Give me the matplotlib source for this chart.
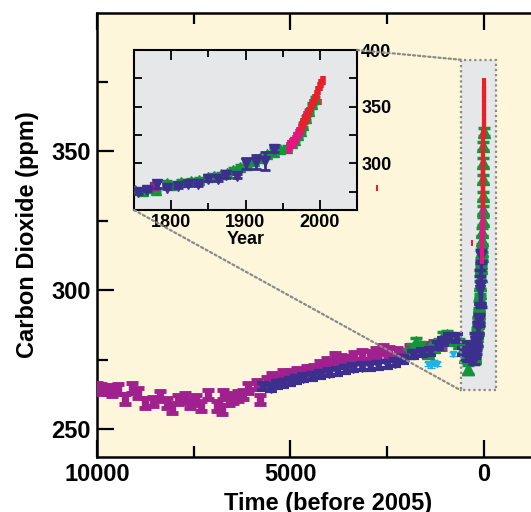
import numpy as np
import matplotlib.pyplot as plt
from matplotlib.patches import Rectangle, ConnectionPatch

plt.rcParams['font.family'] = ['Liberation Sans', 'DejaVu Sans']
plt.rcParams['font.weight'] = 'bold'

# colours
bg_main = '#fdf6da'
bg_inset = '#e6e7e9'
c_mag = '#a0218e'
c_blue = '#3c2f8e'
c_green = '#13953c'
c_cyan = '#1fb1e8'
c_pink = '#e5157f'
c_red = '#e8202a'
c_dot = '#8a8a8a'

# ice core records, years before 2005 / ppm
mag_x = [10000, 9900, 9740, 9600, 9450, 9270, 9100, 8930, 8760, 8550, 8370, 8200, 8070, 7900,
         7730, 7600, 7450, 7300, 7120, 6910, 6780, 6740, 6600, 6480, 6350, 6220, 6090, 5870,
         5790, 5600, 5490, 5360, 5190, 5010, 4840, 4700, 4580, 4400, 4240, 4050, 3850, 3700,
         3550, 3350, 3160, 2950, 2800, 2600, 2450, 2260, 2080, 1900, 1700, 1500, 1300, 1100]
mag_y = [264.9, 264.5, 264.3, 263.5, 264.4, 260.8, 264.9, 263.0, 259.5, 260.0, 261.9, 259.5,
         257.7, 260.7, 261.3, 259.5, 260.5, 258.3, 262.5, 258.3, 257.1, 262.5, 260.5, 261.3,
         262.0, 262.5, 264.9, 266.1, 260.7, 267.0, 268.5, 267.9, 269.7, 269.5, 270.3, 270.0,
         270.9, 271.5, 272.7, 274.0, 275.6, 275.0, 274.5, 276.0, 276.9, 276.3, 277.5, 278.7,
         278.0, 277.4, 276.9, 278.5, 279.0, 279.5, 280.0, 280.5]

blue_x = [5700, 5500, 5360, 5200, 5010, 4850, 4670, 4450, 4240, 4000, 3810, 3600, 3380, 3150,
          2950, 2750, 2510, 2300, 2080, 1830, 1600, 1390, 1200, 1050, 900, 700, 550, 450, 380]
blue_y = [265.5, 265.0, 266.1, 266.5, 267.3, 268.0, 268.5, 269.0, 269.7, 270.3, 270.9, 271.5,
          272.1, 272.5, 272.7, 273.0, 273.3, 274.0, 275.1, 276.9, 277.5, 278.0, 280.0, 281.7,
          283.0, 282.8, 278.0, 276.0, 280.0]

grn_x = [1950, 1850, 1750, 1650, 1550, 1450, 1300, 1150, 1050, 950, 850, 750, 650, 550, 480,
         410, 350, 300]
grn_y = [277.5, 279.0, 281.5, 280.0, 278.5, 277.5, 279.5, 281.0, 283.5, 284.0, 283.0, 282.0,
         281.0, 279.0, 276.0, 271.5, 276.0, 278.0]

cyan_x = [1450, 1380, 1300, 1220, 800]
cyan_y = [273.5, 273.0, 274.0, 273.5, 277.0]

# industrial era, calendar years / ppm
blue_yr = [1755, 1768, 1781, 1795, 1809, 1822, 1836, 1849, 1863, 1874, 1888, 1900, 1914, 1926, 1938]
blue_mod = [274.8, 277.0, 281.6, 278.7, 279.9, 281.6, 281.6, 286.7, 286.7, 289.6, 289.0, 300.0,
            301.4, 302.0, 312.4]
blue_err = [1.5, 1.5, 3, 1.5, 1.5, 1.5, 1.5, 2, 2, 2, 2, 5, 6, 8, 2]

grn_yr = [1751, 1762, 1777, 1780, 1795, 1800, 1813, 1827, 1838, 1849, 1858, 1867, 1875, 1883,
          1893, 1902, 1911, 1920, 1929, 1938, 1947, 1956, 1962, 1966, 1970, 1974, 1978, 1982,
          1986, 1990, 1994]
grn_mod = [276.3, 275.7, 278.0, 276.3, 282.8, 281.0, 283.7, 284.8, 285.6, 288.4, 289.0, 290.5,
           292.0, 294.5, 297.0, 299.0, 302.0, 305.0, 308.0, 310.0, 312.4, 314.0, 318.0, 321.0,
           325.0, 329.0, 334.0, 340.0, 346.0, 352.0, 357.0]

mag_yr = [1777]
mag_mod = [280.0]

pink_yr = [1958, 1960, 1962, 1964, 1966, 1968, 1970, 1972, 1974, 1976, 1978, 1980, 1982, 1984]
pink_ppm = [313.5, 315.5, 317.5, 318.5, 320.5, 323.0, 325.5, 327.5, 330.0, 332.0, 335.0, 338.5,
            341.0, 344.0]
red_yr = [1976, 1978, 1980, 1982, 1984, 1986, 1988, 1990, 1992, 1994, 1996, 1998, 2000, 2002, 2004]
red_ppm = [332.5, 335.0, 338.0, 340.5, 343.5, 346.0, 349.5, 352.5, 355.0, 357.5, 361.0, 364.0,
           367.5, 370.5, 373.5]

# stray red ticks
odd_x = [2765, 310]
odd_y = [336.7, 317.0]
odd_yr = [2002]
odd_ppm = [354.6]


def bp(years):
    return 2005 - np.array(years)


fig = plt.figure(figsize=(5.31, 5.12), dpi=100)
fig.patch.set_facecolor('white')

# main axes
ax = fig.add_axes([97/531, 55/512, (560-97)/531, 444.5/512])
ax.set_facecolor(bg_main)
for s in ax.spines.values():
    s.set_linewidth(1.8)

ax.set_xticks([10000, 5000, 0])
ax.set_xticks([7500, 2500], minor=True)
ax.set_yticks([250, 300, 350])
ax.set_yticks([275, 325, 375], minor=True)
ax.set_xlim(10000, -1964)
ax.set_ylim(240, 400)
ax.tick_params(which='both', direction='in', top=True, right=True, width=1.6)
ax.tick_params(which='major', length=12.5, labelsize=17, pad=4.5)
ax.tick_params(which='minor', length=8)
ax.set_xlabel('Time (before 2005)', fontsize=17, fontweight='bold', labelpad=4)
ax.set_ylabel('Carbon Dioxide (ppm)', fontsize=17, fontweight='bold', labelpad=9)

# zoom box
ax.add_patch(Rectangle((-300, 264), 900, 119, facecolor=bg_inset, edgecolor='none', zorder=1))
ax.add_patch(Rectangle((-300, 264), 900, 119, fill=False, edgecolor=c_dot, lw=1.6,
                       linestyle=(0, (1, 1.3)), zorder=10))

ax.errorbar(mag_x, mag_y, yerr=1.7, fmt='s', ms=5, color=c_mag, elinewidth=3.5,
            capsize=4.5, capthick=3.5, zorder=3)
ax.errorbar(cyan_x, cyan_y, yerr=0.8, fmt='v', ms=5, color=c_cyan, elinewidth=1.5,
            capsize=3, zorder=3.5)
ax.errorbar(grn_x, grn_y, yerr=1.5, fmt='^', ms=8, color=c_green, elinewidth=2.5,
            capsize=4.5, capthick=2.5, zorder=4)
ax.errorbar(blue_x, blue_y, yerr=1.3, fmt='v', ms=7, color=c_blue, elinewidth=2.5,
            capsize=4, capthick=3, zorder=5)
ax.errorbar(bp(grn_yr), grn_mod, yerr=1.5, fmt='^', ms=8, color=c_green, elinewidth=2.5,
            capsize=4.5, capthick=2.5, zorder=4)
ax.errorbar(bp(blue_yr), blue_mod, yerr=blue_err, fmt='v', ms=7, color=c_blue, elinewidth=2.5,
            capsize=4, capthick=2.5, zorder=5)
ax.vlines(bp(pink_yr), np.array(pink_ppm) - 4, np.array(pink_ppm) + 4, color=c_pink, lw=3, zorder=7)
ax.vlines(bp(red_yr), np.array(red_ppm) - 3, np.array(red_ppm) + 3, color=c_red, lw=3, zorder=8)
ax.plot(odd_x, odd_y, '|', color=c_red, ms=5, mew=1.5, zorder=8)

# inset
axi = fig.add_axes([134/531, 1 - 210/512, 223/531, 160/512])
axi.set_facecolor(bg_inset)
for s in axi.spines.values():
    s.set_linewidth(1.5)
axi.set_xticks([1800, 1900, 2000])
axi.set_xticks([1750, 1850, 1950, 2050], minor=True)
axi.set_yticks([300, 350, 400])
axi.set_yticks([275, 325, 375], minor=True)
axi.set_xlim(1750, 2050)
axi.set_ylim(259, 400)
axi.tick_params(which='both', direction='in', top=True, right=True, left=True,
                labelleft=False, labelright=True, width=1.3, labelsize=13, pad=3)
axi.tick_params(axis='x', which='major', length=7)
axi.tick_params(axis='x', which='minor', length=5)
axi.tick_params(axis='y', which='both', length=5.5)
axi.set_xlabel('Year', fontsize=13, fontweight='bold', labelpad=0)

axi.errorbar(grn_yr, grn_mod, yerr=1.5, fmt='^', ms=7, color=c_green, elinewidth=2.5,
             capsize=3.5, capthick=2.5, zorder=3)
axi.errorbar(mag_yr, mag_mod, yerr=1.5, fmt='s', ms=6, color=c_mag, elinewidth=2,
             capsize=3, zorder=3.5)
axi.errorbar(blue_yr, blue_mod, yerr=blue_err, fmt='v', ms=6.5, color=c_blue, elinewidth=2,
             capsize=3.5, capthick=2, zorder=4)
axi.vlines(pink_yr, np.array(pink_ppm) - 5, np.array(pink_ppm) + 5, color=c_pink, lw=4, zorder=5)
axi.vlines(red_yr, np.array(red_ppm) - 4, np.array(red_ppm) + 4, color=c_red, lw=4, zorder=6)
axi.plot(odd_yr, odd_ppm, '|', color=c_red, ms=4, mew=1.2, zorder=6)

# dotted leader lines from the inset to the box
for xa, xb in [((1, 1), (600, 383)), ((0, 0), (600, 264))]:
    con = ConnectionPatch(xyA=xa, coordsA=axi.transAxes, xyB=xb, coordsB=ax.transData,
                          color=c_dot, lw=1.6, linestyle=(0, (1, 1.3)), zorder=9)
    fig.add_artist(con)

fig.savefig('out.png', dpi=100)
